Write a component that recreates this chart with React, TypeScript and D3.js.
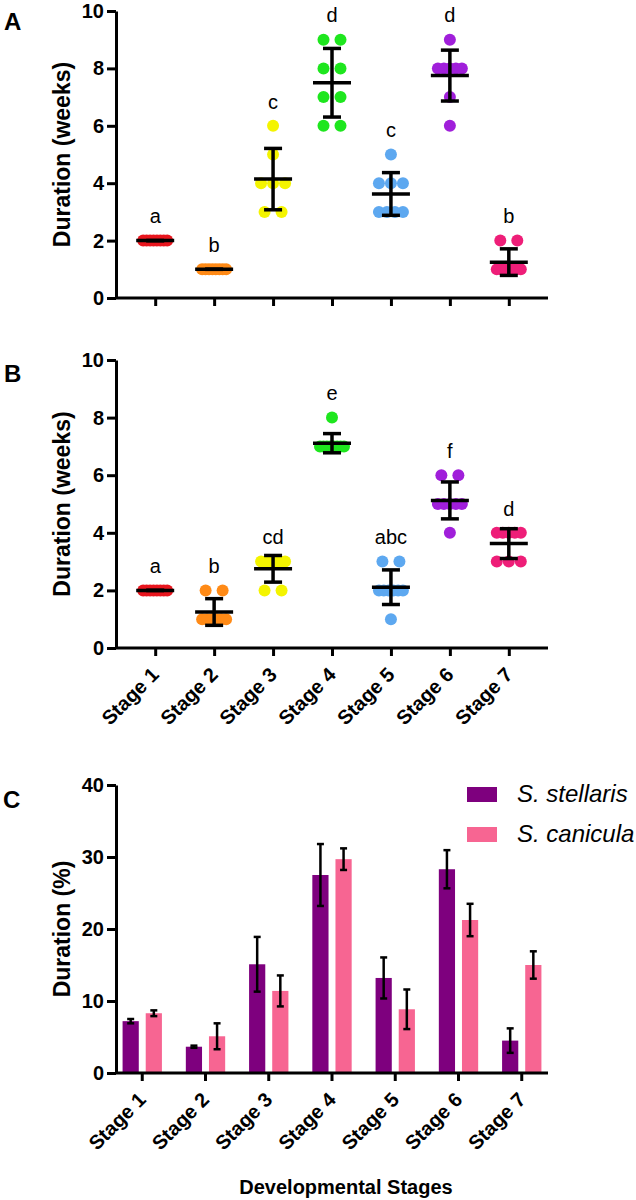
import React, { useEffect, useRef } from "react";
import * as d3 from "d3";

// categories
const stages = ["Stage 1", "Stage 2", "Stage 3", "Stage 4", "Stage 5", "Stage 6", "Stage 7"];
const dotColors = ["#E8161E", "#FF8A16", "#F4F400", "#1EE61E", "#5DA8F0", "#A01FDA", "#EE1E78"];

// panel A: individual durations (weeks)
const weeksA = [
  [2, 2, 2, 2, 2, 2, 2, 2],
  [1, 1, 1, 1, 1, 1, 1, 1],
  [6, 5, 4, 4, 4, 3, 3],
  [9, 9, 8, 8, 7, 7, 6, 6],
  [5, 4, 4, 4, 3, 3, 3, 3],
  [9, 8, 8, 8, 8, 8, 7, 6],
  [2, 2, 1, 1, 1, 1, 1, 1],
];
const lettersA = ["a", "b", "c", "d", "c", "d", "b"];

// panel B: individual durations (weeks)
const weeksB = [
  [2, 2, 2, 2, 2, 2, 2, 2],
  [2, 2, 1, 1, 1, 1, 1, 1],
  [3, 3, 3, 3, 3, 3, 2, 2],
  [8, 7, 7, 7, 7, 7, 7, 7, 7],
  [3, 3, 2, 2, 2, 2, 2, 2, 1],
  [6, 6, 5, 5, 5, 5, 5, 4],
  [4, 4, 4, 4, 4, 3, 3, 3],
];
const lettersB = ["a", "b", "cd", "e", "abc", "f", "d"];

// panel C: duration (%) mean and error
const series = ["S. stellaris", "S. canicula"];
const seriesColors = ["#7E007E", "#F76592"];
const stellarisMean = [7.2, 3.65, 15.1, 27.5, 13.2, 28.3, 4.5];
const stellarisErr = [0.3, 0.15, 3.8, 4.3, 2.85, 2.65, 1.7];
const caniculaMean = [8.3, 5.1, 11.4, 29.7, 8.85, 21.25, 15.0];
const caniculaErr = [0.4, 1.8, 2.15, 1.5, 2.75, 2.25, 1.9];

const weekTicks = [0, 2, 4, 6, 8, 10];
const pctTicks = [0, 10, 20, 30, 40];

const FONT = "'Liberation Sans', Arial, sans-serif";

function App() {
  const ref = useRef<SVGSVGElement>(null);

  useEffect(() => {
    const svg = d3.select(ref.current);
    svg.selectAll("*").remove();

    const left = 116;
    const right = 548;

    const styleAxis = (g: any) => {
      g.attr("font-size", null).attr("font-family", null);
      g.selectAll("path").attr("stroke", "#000").attr("stroke-width", 3);
      g.selectAll("line").attr("stroke", "#000").attr("stroke-width", 3);
      g.selectAll("text")
        .attr("font-family", FONT)
        .attr("font-weight", "bold")
        .attr("font-size", 20)
        .attr("fill", "#000");
    };

    const stageLabel = (g: any, cx: number, bottom: number, s: string) => {
      g.append("text")
        .attr("transform", `translate(${cx + 5},${bottom + 28}) rotate(-45)`)
        .attr("text-anchor", "end")
        .attr("font-family", FONT)
        .attr("font-weight", "bold")
        .attr("font-size", 20)
        .text(s);
    };

    const drawDotPanel = (data: number[][], letters: string[], top: number, bottom: number, label: string, showX: boolean) => {
      const x = d3.scalePoint<string>().domain(stages).range([left, right]).padding(0.665);
      const y = d3.scaleLinear().domain([0, 10]).range([bottom, top]);
      const g = svg.append("g");

      // dots
      data.forEach((vals, i) => {
        const counts = d3.group(vals, (v) => v);
        counts.forEach((arr, v) => {
          const k = arr.length;
          const offs = k === 1 ? [0] : k === 2 ? [-8.5, 8.5] : d3.range(k).map((j) => -12 + (24 * j) / (k - 1));
          offs.forEach((o) => {
            g.append("circle")
              .attr("cx", (x(stages[i]) as number) + o)
              .attr("cy", y(v))
              .attr("r", 6)
              .attr("fill", dotColors[i]);
          });
        });
      });

      // mean +/- SD
      data.forEach((vals, i) => {
        const cx = x(stages[i]) as number;
        const m = d3.mean(vals) as number;
        const sd = d3.deviation(vals) || 0;
        const lo = y(m - sd);
        const hi = y(m + sd);
        const eb = g.append("g").attr("stroke", "#000").attr("stroke-width", 3.5);
        eb.append("line").attr("x1", cx).attr("x2", cx).attr("y1", lo).attr("y2", hi);
        eb.append("line").attr("x1", cx - 9).attr("x2", cx + 9).attr("y1", lo).attr("y2", lo);
        eb.append("line").attr("x1", cx - 9).attr("x2", cx + 9).attr("y1", hi).attr("y2", hi);
        eb.append("line").attr("x1", cx - 19).attr("x2", cx + 19).attr("y1", y(m)).attr("y2", y(m));

        g.append("text")
          .attr("x", cx)
          .attr("y", y((d3.max(vals) as number) + 0.6))
          .attr("text-anchor", "middle")
          .attr("font-family", FONT)
          .attr("font-size", 20)
          .text(letters[i]);
      });

      const ya = g.append("g")
        .attr("transform", `translate(${left},0)`)
        .call(d3.axisLeft(y).tickValues(weekTicks).tickSize(9).tickSizeOuter(0).tickPadding(3));
      styleAxis(ya);

      const xa = g.append("g")
        .attr("transform", `translate(0,${bottom})`)
        .call(d3.axisBottom(x).tickSize(8).tickSizeOuter(0).tickFormat(() => ""));
      styleAxis(xa);
      xa.select(".domain").attr("d", `M${left},0H${right}`);

      if (showX) {
        stages.forEach((s) => stageLabel(g, x(s) as number, bottom, s));
      }

      g.append("text")
        .attr("transform", `translate(70,${(top + bottom) / 2}) rotate(-90)`)
        .attr("text-anchor", "middle")
        .attr("font-family", FONT)
        .attr("font-weight", "bold")
        .attr("font-size", 23)
        .text("Duration (weeks)");

      g.append("text")
        .attr("x", 4)
        .attr("y", top + (label === "A" ? 19 : 22))
        .attr("font-family", FONT)
        .attr("font-weight", "bold")
        .attr("font-size", 24)
        .text(label);
    };

    drawDotPanel(weeksA, lettersA, 11, 298, "A", false);
    drawDotPanel(weeksB, lettersB, 360, 648, "B", true);

    // panel C
    const top = 785;
    const bottom = 1073;
    const x0 = d3.scaleBand<string>().domain(stages).range([left, right]).paddingInner(0.378).paddingOuter(0.104);
    const x1 = d3.scaleBand<string>().domain(series).range([0, x0.bandwidth()]).paddingInner(0.3);
    const y = d3.scaleLinear().domain([0, 40]).range([bottom, top]);
    const g = svg.append("g");
    const means = [stellarisMean, caniculaMean];
    const errs = [stellarisErr, caniculaErr];

    series.forEach((s, si) => {
      g.append("g")
        .selectAll("rect")
        .data(stages)
        .join("rect")
        .attr("x", (d) => (x0(d) as number) + (x1(s) as number))
        .attr("width", x1.bandwidth())
        .attr("y", (d, i) => y(means[si][i]))
        .attr("height", (d, i) => bottom - y(means[si][i]))
        .attr("fill", seriesColors[si]);
    });

    series.forEach((s, si) => {
      stages.forEach((d, i) => {
        const cx = (x0(d) as number) + (x1(s) as number) + x1.bandwidth() / 2;
        const lo = y(means[si][i] - errs[si][i]);
        const hi = y(means[si][i] + errs[si][i]);
        const eb = g.append("g").attr("stroke", "#000").attr("stroke-width", 2.5);
        eb.append("line").attr("x1", cx).attr("x2", cx).attr("y1", lo).attr("y2", hi);
        eb.append("line").attr("x1", cx - 3.5).attr("x2", cx + 3.5).attr("y1", lo).attr("y2", lo);
        eb.append("line").attr("x1", cx - 3.5).attr("x2", cx + 3.5).attr("y1", hi).attr("y2", hi);
      });
    });

    const ya = g.append("g")
      .attr("transform", `translate(${left},0)`)
      .call(d3.axisLeft(y).tickValues(pctTicks).tickSize(9).tickSizeOuter(0).tickPadding(3));
    styleAxis(ya);

    const xa = g.append("g")
      .attr("transform", `translate(0,${bottom})`)
      .call(d3.axisBottom(x0).tickSize(8).tickSizeOuter(0).tickFormat(() => ""));
    styleAxis(xa);
    xa.select(".domain").attr("d", `M${left},0H${right}`);

    stages.forEach((s) => stageLabel(g, (x0(s) as number) + x0.bandwidth() / 2, bottom, s));

    g.append("text")
      .attr("transform", `translate(70,${(top + bottom) / 2}) rotate(-90)`)
      .attr("text-anchor", "middle")
      .attr("font-family", FONT)
      .attr("font-weight", "bold")
      .attr("font-size", 23)
      .text("Duration (%)");

    g.append("text")
      .attr("x", 346)
      .attr("y", 1194)
      .attr("text-anchor", "middle")
      .attr("font-family", FONT)
      .attr("font-weight", "bold")
      .attr("font-size", 20)
      .text("Developmental Stages");

    g.append("text")
      .attr("x", 3)
      .attr("y", 808)
      .attr("font-family", FONT)
      .attr("font-weight", "bold")
      .attr("font-size", 24)
      .text("C");

    // legend
    series.forEach((s, si) => {
      g.append("rect")
        .attr("x", 467)
        .attr("y", 787 + si * 40)
        .attr("width", 30)
        .attr("height", 15)
        .attr("fill", seriesColors[si]);
      g.append("text")
        .attr("x", 517)
        .attr("y", 802 + si * 40)
        .attr("font-family", FONT)
        .attr("font-style", "italic")
        .attr("font-size", 24)
        .text(s);
    });
  }, []);

  return (
    <svg
      ref={ref}
      width={636}
      height={1200}
      style={{ position: "absolute", left: 0, top: 0, background: "#fff" }}
    />
  );
}

export default App;
